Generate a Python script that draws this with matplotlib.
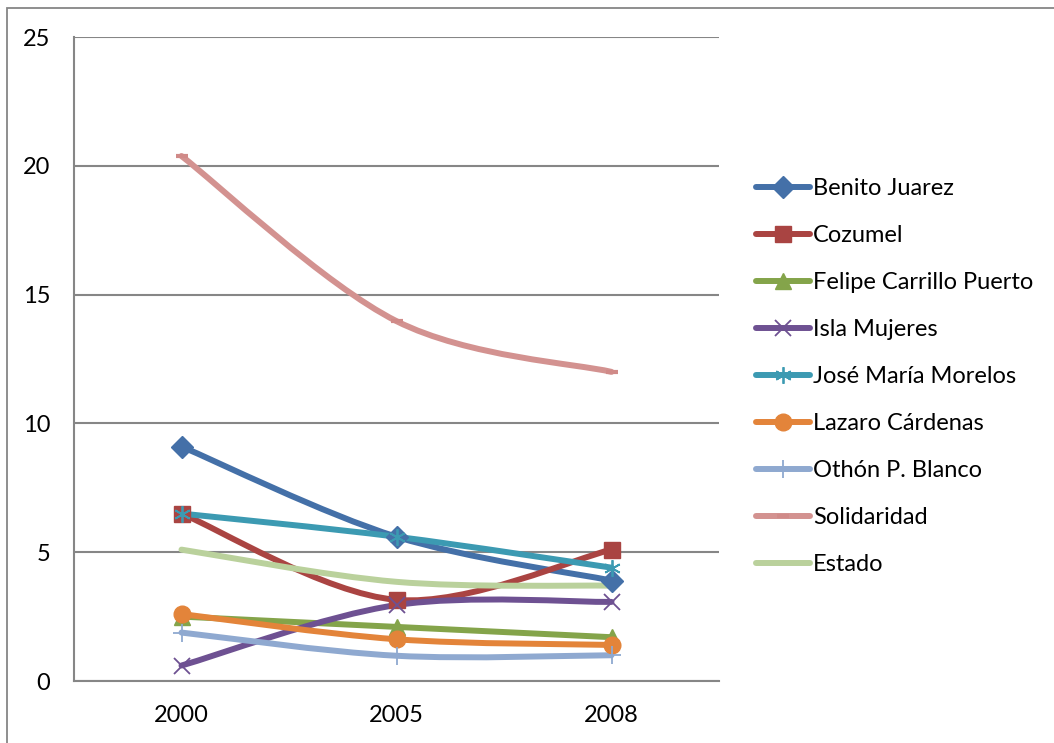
import matplotlib
matplotlib.use("Agg")
import matplotlib.pyplot as plt
from matplotlib.path import Path
from matplotlib.patches import PathPatch, Rectangle
from matplotlib.lines import Line2D

plt.rcParams['font.family'] = ['Lato', 'DejaVu Sans']

years = ["2000", "2005", "2008"]
series_names = ["Benito Juarez", "Cozumel", "Felipe Carrillo Puerto", "Isla Mujeres",
                "José María Morelos", "Lazaro Cárdenas", "Othón P. Blanco",
                "Solidaridad", "Estado"]
benito_juarez = [9.1, 5.6, 3.9]
cozumel = [6.5, 3.15, 5.1]
felipe_carrillo_puerto = [2.5, 2.1, 1.7]
isla_mujeres = [0.6, 2.95, 3.07]
jose_maria_morelos = [6.5, 5.6, 4.4]
lazaro_cardenas = [2.6, 1.62, 1.4]
othon_p_blanco = [1.88, 0.98, 1.0]
solidaridad = [20.38, 13.97, 12.0]
estado = [5.1, 3.85, 3.7]
values = [benito_juarez, cozumel, felipe_carrillo_puerto, isla_mujeres,
          jose_maria_morelos, lazaro_cardenas, othon_p_blanco, solidaridad, estado]
y_ticks = [0, 5, 10, 15, 20, 25]

line_colors = ["#4470A8", "#AA4442", "#84A44A", "#6E5192", "#3C9AB2",
               "#E3843A", "#8FA9D0", "#D39290", "#BAD19C"]
marker_colors = ["#4470A8", "#A94442", "#84A44A", "#6E5192", "#3C9AB2",
                 "#E3843A", "#8FA9D0", "#D08A88", "#BAD19C"]
markers = ["D", "s", "^", "x", (6, 2, 0), "o", "+", "_", None]
msizes = [11, 11, 11, 11, 12, 12, 13, 9, 0]
mew = [1, 1, 1, 1.3, 1.3, 1, 1.3, 3, 1]

FS = 17
W, H = 1054, 743
fig = plt.figure(figsize=(W / 100, H / 100), dpi=100)
fig.patch.set_facecolor("white")
# outer chart border (left/top visible)
fig.add_artist(Rectangle((7 / W, -0.1), 1.2, 1 - 8 / H + 0.1, transform=fig.transFigure,
                         fill=False, edgecolor="#868686", linewidth=1.3))

ax = fig.add_axes([74 / W, 1 - 681 / H, (719 - 74) / W, (681 - 37) / H])
ax.set_xlim(-0.5, 2.5)
ax.set_ylim(0, 25)
ax.set_yticks(y_ticks)
ax.set_xticks(range(len(years)))
ax.set_xticklabels(years)
ax.tick_params(axis="both", length=0, labelsize=FS, colors="black")
ax.tick_params(axis="y", pad=17)
ax.tick_params(axis="x", pad=17)
for s in ["top", "right"]:
    ax.spines[s].set_visible(False)
for s in ["left", "bottom"]:
    ax.spines[s].set_color("#868686")
    ax.spines[s].set_linewidth(1.5)
ax.grid(axis="y", color="#868686", linewidth=1.5)
ax.set_axisbelow(True)

xs = list(range(len(years)))


def smooth_path(x, y):
    pts = list(zip(x, y))
    n = len(pts)
    verts = [pts[0]]
    codes = [Path.MOVETO]
    for i in range(n - 1):
        p0 = pts[i - 1] if i > 0 else pts[i]
        p1 = pts[i]
        p2 = pts[i + 1]
        p3 = pts[i + 2] if i + 2 < n else pts[i + 1]
        c1 = (p1[0] + (p2[0] - p0[0]) / 6, p1[1] + (p2[1] - p0[1]) / 6)
        c2 = (p2[0] - (p3[0] - p1[0]) / 6, p2[1] - (p3[1] - p1[1]) / 6)
        verts += [c1, c2, p2]
        codes += [Path.CURVE4] * 3
    return Path(verts, codes)


handles = []
for name, vals, lc, mc, mk, ms, mw in zip(series_names, values, line_colors, marker_colors,
                                          markers, msizes, mew):
    patch = PathPatch(smooth_path(xs, vals), facecolor="none", edgecolor=lc,
                      linewidth=4.3, capstyle="round", joinstyle="round", zorder=3)
    ax.add_patch(patch)
    if mk is not None:
        ax.plot(xs, vals, linestyle="none", marker=mk, markersize=ms,
                markerfacecolor=mc, markeredgecolor=mc, markeredgewidth=mw, zorder=4)
    handles.append(Line2D([], [], color=lc, linewidth=4.3, marker=mk if mk else None,
                          markersize=ms, markerfacecolor=mc, markeredgecolor=mc,
                          markeredgewidth=mw, solid_capstyle="round"))

leg = fig.legend(handles, series_names, loc="upper left",
                 bbox_to_anchor=(756 / W, 1 - 178 / H), frameon=False,
                 fontsize=FS, handlelength=2.3, handletextpad=0.12,
                 labelspacing=1.1, borderaxespad=0, borderpad=0)

fig.savefig("out.png", dpi=100)
